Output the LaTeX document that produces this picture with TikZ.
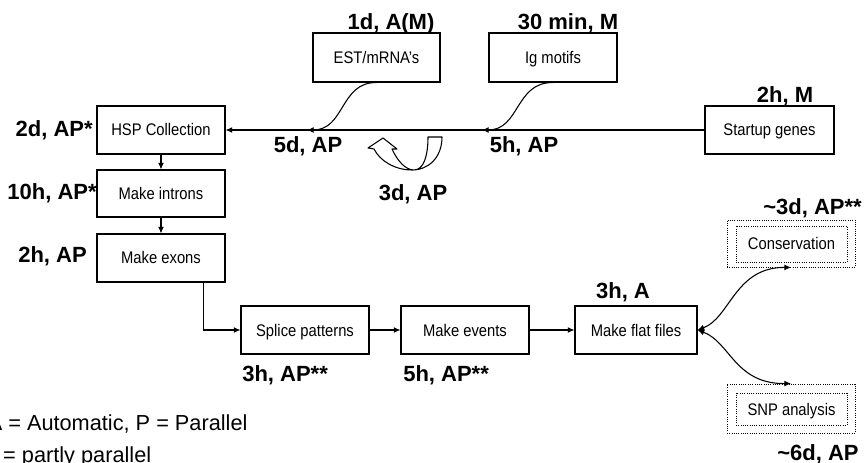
\documentclass[tikz,border=0pt]{standalone}
\usepackage{fontspec}
\setmainfont{Liberation Sans}
\newfontfamily\boxfont{Liberation Sans}[FakeStretch=0.88]
\usetikzlibrary{arrows.meta,calc}
\begin{document}
\begin{tikzpicture}[x=0.75pt,y=-0.75pt,
  box/.style={draw,line width=0.85pt,minimum width=96pt,minimum height=36pt,inner sep=0pt,
    font=\boxfont\fontsize{12.6}{14}\selectfont,text height=9pt,text depth=0pt},
  dbox/.style={draw,densely dotted,line width=0.7pt,inner sep=0pt},
  lbl/.style={font=\fontsize{16.5}{19}\selectfont\bfseries,inner sep=0pt,anchor=base},
  legend/.style={font=\fontsize{16.3}{19}\selectfont,inner sep=0pt,anchor=base west},
  arr/.style={line width=0.8pt,-{Latex[length=5pt,width=4.5pt]}},
  darr/.style={line width=0.8pt,{Latex[length=5pt,width=4.5pt]}-{Latex[length=5pt,width=4.5pt]}}
]
\useasboundingbox (0,0) rectangle (864,463);

% boxes
\node[box,minimum width=95.25pt,minimum height=36.75pt] (est) at (376.5,57.5) {EST/mRNA’s};
\node[box,minimum height=36.75pt] (ig) at (553,57.5) {Ig motifs};
\node[box,minimum width=96.75pt] (startup) at (769.5,130) {Startup genes};
\node[box] (hsp) at (161,130) {HSP Collection};
\node[box,minimum height=35.25pt] (introns) at (161,193.5) {Make introns};
\node[box] (exons) at (161,258) {Make exons};
\node[box] (splice) at (305,330) {Splice patterns};
\node[box] (events) at (465,330) {Make events};
\node[box,minimum width=91.5pt] (flat) at (636,330) {Make flat files};

\node[dbox,minimum width=96pt,minimum height=35.25pt] (consout) at (791,243.5) {};
\node[dbox,minimum width=83.25pt,minimum height=27pt,font=\boxfont\fontsize{12.6}{14}\selectfont,text height=9pt,text depth=0pt] (consin) at (791.5,244) {Conservation};
\node[dbox,minimum width=96pt,minimum height=36.75pt] (snpout) at (791,408.5) {};
\node[dbox,minimum width=83.25pt,minimum height=24pt,font=\boxfont\fontsize{12.6}{14}\selectfont,text height=9pt,text depth=0pt] (snpin) at (791.5,409) {SNP analysis};

% labels
\node[lbl] (l1) at (391,30) {1d, A(M)};
\node[lbl] (l2) at (568,30) {30 min, M};
\node[lbl] (l3) at (785,103) {2h, M};
\node[lbl,anchor=base east] (l4) at (93,137) {2d, AP*};
\node[lbl,anchor=base east] (l5) at (97,200) {10h, AP*};
\node[lbl,anchor=base east] (l6) at (87,263) {2h, AP};
\node[lbl] (l7) at (308,153) {5d, AP};
\node[lbl] (l8) at (524,153) {5h, AP};
\node[lbl] (l9) at (413,201) {3d, AP};
\node[lbl,anchor=base east] (l10) at (862,215) {\textasciitilde 3d, AP**};
\node[lbl,anchor=base west] (l11) at (777,460) {\textasciitilde 6d, AP};
\node[lbl] (l12) at (623,299) {3h, A};
\node[lbl,anchor=base west] (l13) at (242,382) {3h, AP**};
\node[lbl,anchor=base west] (l14) at (403,382) {5h, AP**};

% legend
\node[legend] (leg1) at (-12.5,430) {A = Automatic, P = Parallel};
\node[legend] (leg2) at (-11.5,462) {* = partly parallel};

% connectors
\coordinate (j1) at (307,130);
\coordinate (j2) at (482,130);
\draw[arr] (startup.west) -- (hsp.east);
\draw[arr] (est.south) .. controls (340,82) and (345,130) .. (j1);
\draw[arr] (ig.south) .. controls (515,82) and (520,130) .. (j2);
\draw[arr] (hsp.south) -- (introns.north);
\draw[arr] (introns.south) -- (exons.north);
\draw[arr] ($(exons.south east)+(-22,0)$) |- (splice.west);
\draw[arr] (splice.east) -- (events.west);
\draw[arr] (events.east) -- (flat.west);
\draw[darr] (flat.east) .. controls (730,318) and (735,267) .. (consout.south);
\draw[darr] (flat.east) .. controls (730,342) and (735,384) .. (snpout.north);

% U-turn block arrow
\draw[line width=0.8pt,fill=white,line join=round] (368,148) -- (383,138) -- (397,149) -- (392,149)
  .. controls (398,162) and (406,170) .. (414,170)
  .. controls (424,170) and (428,155) .. (428,137) -- (442,137)
  .. controls (442,158) and (428,170) .. (412,170)
  .. controls (395,170) and (380,161) .. (374,149) -- cycle;
\end{tikzpicture}
\end{document}
